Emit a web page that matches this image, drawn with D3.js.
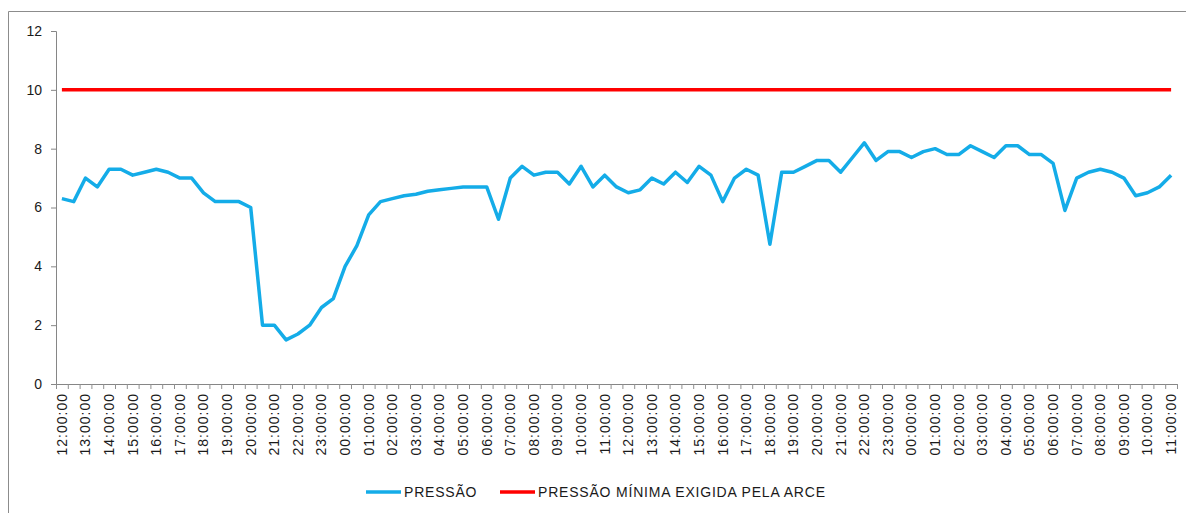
<!DOCTYPE html>
<html>
<head>
<meta charset="utf-8">
<script src="https://cdn.jsdelivr.net/npm/d3@7"></script>
<style>
	body{margin:0;background:#fff;}
	svg{display:block;font-family:"Liberation Sans",Arial,sans-serif;}
</style>
</head>
<body>
<svg id="svg"></svg>
<script>
// pressure every 30 min, 12:00:00 -> 11:00:00 (two days later)
var startHour = 12;
var pressao = [
	6.3,6.2,7.0,6.7,7.3,7.3,7.1,7.2,7.3,7.2,
	7.0,7.0,6.5,6.2,6.2,6.2,6.0,2.0,2.0,1.5,
	1.7,2.0,2.6,2.9,4.0,4.7,5.75,6.2,6.3,6.4,
	6.45,6.55,6.6,6.65,6.7,6.7,6.7,5.6,7.0,7.4,
	7.1,7.2,7.2,6.8,7.4,6.7,7.1,6.7,6.5,6.6,
	7.0,6.8,7.2,6.85,7.4,7.1,6.2,7.0,7.3,7.1,
	4.75,7.2,7.2,7.4,7.6,7.6,7.2,7.7,8.2,7.6,
	7.9,7.9,7.7,7.9,8.0,7.8,7.8,8.1,7.9,7.7,
	8.1,8.1,7.8,7.8,7.5,5.9,7.0,7.2,7.3,7.2,
	7.0,6.4,6.5,6.7,7.1
];
var minimo = pressao.map(function(){ return 10; });
var yTicks = [0,2,4,6,8,10,12];
var seriesNames = ["PRESSÃO","PRESSÃO MÍNIMA EXIGIDA PELA ARCE"];
var seriesColors = ["#14ace8","#ff0000"];

// time label for every point
var timeLabels = pressao.map(function(d,i){
	var mins = startHour*60 + i*30;
	var h = Math.floor(mins/60) % 24, m = mins % 60;
	return d3.format("02")(h) + ":" + d3.format("02")(m) + ":00";
});

var width = 1186, height = 513;
var svg = d3.select("#svg").attr("width", width).attr("height", height);

// chart frame (only left and top visible)
svg.append("path")
	.attr("d","M8.5,513 V11.5 H1186")
	.attr("fill","none").attr("stroke","#8c8c8c").attr("stroke-width",1);

var n = pressao.length;
var x = d3.scaleLinear().domain([0, n]).range([56, 1177]);
var y = d3.scaleLinear().domain([0, 12]).range([384, 31]);

// y axis
var yAxis = svg.append("g")
	.attr("transform","translate(56,0)")
	.call(d3.axisLeft(y).tickValues(yTicks).tickSize(5).tickPadding(9));
yAxis.select(".domain").attr("stroke","#868686");
yAxis.selectAll(".tick line").attr("stroke","#868686");
yAxis.selectAll(".tick text").attr("fill","#1a1a1a").style("font-size","14px")
	.style("font-family","'Liberation Sans',Arial,sans-serif");

// x axis, ticks between categories
var xAxis = svg.append("g")
	.attr("transform","translate(0,384)")
	.call(d3.axisBottom(x).tickValues(d3.range(n+1)).tickSize(5).tickFormat(""));
xAxis.select(".domain").attr("stroke","#868686");
xAxis.selectAll(".tick line").attr("stroke","#8f8f8f");

svg.append("g").selectAll("text")
	.data(timeLabels.filter(function(d,i){ return i%2==0; }))
	.enter().append("text")
	.attr("transform",function(d,i){ return "translate(" + x(i*2+0.5) + ",393) rotate(-90)"; })
	.attr("text-anchor","end")
	.attr("dy","0.35em")
	.attr("fill","#1a1a1a")
	.style("font-size","14px")
	.style("letter-spacing","1px")
	.text(function(d){ return d; });

var line = d3.line()
	.x(function(d,i){ return x(i+0.5); })
	.y(function(d){ return y(d); });

svg.append("path").datum(minimo)
	.attr("d", line).attr("fill","none")
	.attr("stroke", seriesColors[1]).attr("stroke-width",3.5);

svg.append("path").datum(pressao)
	.attr("d", line).attr("fill","none")
	.attr("stroke", seriesColors[0]).attr("stroke-width",3.5)
	.attr("stroke-linejoin","round");

// legend
var legendX = [366, 500];
var legend = svg.append("g").selectAll("g")
	.data(seriesNames)
	.enter().append("g")
	.attr("transform",function(d,i){ return "translate(" + legendX[i] + ",492)"; });
legend.append("line")
	.attr("x1",0).attr("x2",35).attr("y1",0).attr("y2",0)
	.attr("stroke",function(d,i){ return seriesColors[i]; })
	.attr("stroke-width",3.5);
legend.append("text")
	.attr("x",38).attr("dy","0.35em")
	.attr("fill","#1a1a1a")
	.style("font-size","14px")
	.style("letter-spacing","0.8px")
	.text(function(d){ return d; });
</script>
</body>
</html>
